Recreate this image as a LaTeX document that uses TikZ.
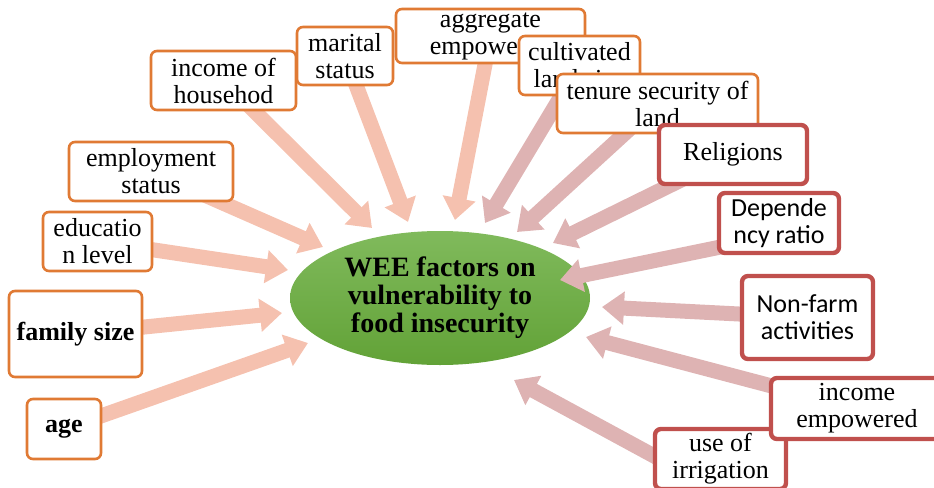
\documentclass[tikz,border=0pt]{standalone}
\usepackage{fontspec}
\setmainfont{Liberation Serif}
\newfontfamily\calibri{Carlito}
\usetikzlibrary{arrows.meta,shapes.geometric}
\pgfdeclarelayer{back}
\pgfdeclarelayer{mid}
\pgfsetlayers{back,mid,main}
\definecolor{boxorange}{RGB}{224,122,52}
\definecolor{boxred}{RGB}{192,80,77}
\definecolor{arrsalmon}{RGB}{245,193,175}
\definecolor{arrrose}{RGB}{222,179,179}
\definecolor{leafhi}{RGB}{128,186,92}
\definecolor{leaflo}{RGB}{98,162,55}
\tikzset{
  factor/.style={draw=boxorange, line width=1.3pt, rounded corners=3pt, fill=white,
    align=center, inner sep=0pt, font=\fontsize{13}{13.5}\selectfont},
  strong/.style={factor, draw=boxred, line width=2.2pt},
  fat/.style={line width=7.5pt, -{Triangle[length=11pt,width=16pt]}},
}
\begin{document}
\begin{tikzpicture}[x=0.5pt, y=-0.5pt]
\useasboundingbox (0,0) rectangle (934,488);
\begin{pgfonlayer}{back}
\node[ellipse, inner sep=0pt, minimum width=150pt, minimum height=67pt,
  top color=leafhi, bottom color=leaflo, align=center,
  font=\bfseries\fontsize{14}{14}\selectfont] (wee) at (440,298)
  {WEE factors on\\vulnerability to\\food insecurity};
\end{pgfonlayer}
% left and top: household side
\node[factor, minimum width=72.5pt, minimum height=29.5pt] (hh) at (223.5,80.5) {income of\\househod};
\node[factor, minimum width=48pt, minimum height=29pt] (marital) at (345,56) {marital\\status};
\node[factor, minimum width=94.5pt, minimum height=27pt] (aggr) at (490.5,36) {aggregate\\empowered};
\node[factor, minimum width=82pt, minimum height=29.5pt] (emp) at (151,171.5) {employment\\status};
\node[factor, minimum width=54.5pt, minimum height=29.5pt] (edu) at (97.5,241.5) {educatio\\n level};
\node[factor, minimum width=66.5pt, minimum height=43pt, font=\bfseries\fontsize{13}{13.5}\selectfont] (fam) at (75.5,334) {family size};
\node[factor, minimum width=37pt, minimum height=30pt, font=\bfseries\fontsize{13}{13.5}\selectfont] (age) at (64,429) {age};
% right: land and resources
\node[factor, minimum width=60.5pt, minimum height=29.5pt] (cult) at (579.5,65.5) {cultivated\\land size};
\node[factor, minimum width=100.5pt, minimum height=29.5pt] (tenure) at (657.5,103.5) {tenure security of\\land};
\node[strong, minimum width=74pt, minimum height=29.5pt] (relig) at (733,154.5) {Religions};
\node[strong, minimum width=60pt, minimum height=30pt, font=\calibri\fontsize{13}{13.5}\selectfont] (dep) at (779,223) {Depende\\ncy ratio};
\node[strong, minimum width=65.5pt, minimum height=41.5pt, font=\calibri\fontsize{13}{13.5}\selectfont] (nonfarm) at (807.5,317.5) {Non-farm\\activities};
\node[strong, minimum width=65.5pt, minimum height=30pt] (irrig) at (720.5,459) {use of\\irrigation};
\node[strong, minimum width=86pt, minimum height=30.5pt] (incemp) at (857,408.5) {income\\empowered};
\begin{pgfonlayer}{mid}
\foreach \f/\s/\x/\y in {hh/0/372/228, marital/0/408/222, aggr/0/455/220,
  emp/0/323/247, edu/0/288/270, fam/0/282/313, age/0/308/343}
{
  \coordinate (\f-tip) at (\x,\y);
  \draw[fat, arrsalmon] ([yshift=\s pt]\f.center) -- (\f-tip);
}
\foreach \f/\s/\x/\y in {cult/0/485/223, tenure/0/517/232, relig/0/553/243,
  dep/-6/560/280, nonfarm/0/602/307, incemp/0/586/337, irrig/-16.5/514/380}
{
  \coordinate (\f-tip) at (\x,\y);
  \draw[fat, arrrose] ([yshift=\s pt]\f.center) -- (\f-tip);
}
\end{pgfonlayer}
\end{tikzpicture}
\end{document}
